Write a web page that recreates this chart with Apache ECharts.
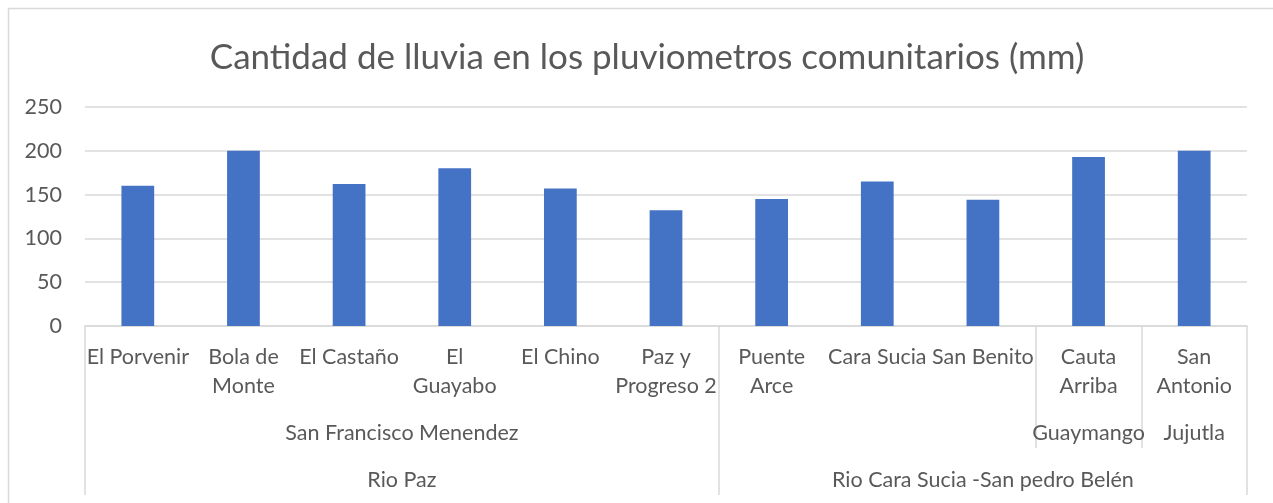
<!DOCTYPE html>
<html>
<head>
<meta charset="utf-8">
<script src="https://cdn.jsdelivr.net/npm/echarts@6/dist/echarts.min.js"></script>
<style>
html,body{margin:0;padding:0;background:#fff;}
#chart{width:1273px;height:503px;}
</style>
</head>
<body>
<div id="chart"></div>
<script>
// ---- data ----
const categories = ['El Porvenir','Bola de Monte','El Castaño','El Guayabo','El Chino','Paz y Progreso 2','Puente Arce','Cara Sucia','San Benito','Cauta Arriba','San Antonio'];
const categoryLabels = ['El Porvenir','Bola de\nMonte','El Castaño','El\nGuayabo','El Chino','Paz y\nProgreso 2','Puente\nArce','Cara Sucia','San Benito','Cauta\nArriba','San\nAntonio'];
const rainfall = [160, 200, 162, 180, 157, 132, 145, 165, 144, 193, 200];
// level 2 groups (municipio): [start index, end index (exclusive), label]
const municipios = [[0, 6, 'San Francisco Menendez'], [6, 9, ''], [9, 10, 'Guaymango'], [10, 11, 'Jujutla']];
// level 3 groups (cuenca)
const cuencas = [[0, 6, 'Rio Paz'], [6, 11, 'Rio Cara Sucia -San pedro Belén']];
const yTicks = [0, 50, 100, 150, 200, 250];

const FONT = 'Lato';
const TXT = '#595959';
const LINE = '#d9d9d9';
const n = categories.length;

function groupLabelValues(groups) { return groups.filter(g => g[2]).map(g => (g[0] + g[1]) / 2); }
function groupLabelMap(groups) { const m = {}; groups.forEach(g => { if (g[2]) m[(g[0] + g[1]) / 2] = g[2]; }); return m; }
const muniMap = groupLabelMap(municipios);
const cuencaMap = groupLabelMap(cuencas);
const cuencaBounds = new Set([0].concat(cuencas.map(g => g[1])));
const muniBounds = municipios.map(g => g[1]).filter(v => !cuencaBounds.has(v));

const chart = echarts.init(document.getElementById('chart'));
chart.setOption({
  animation: false,
  backgroundColor: '#fff',
  title: {
    text: 'Cantidad de lluvia en los pluviometros comunitarios (mm)',
    left: 642,
    textAlign: 'center',
    top: 32,
    textStyle: { fontFamily: FONT, fontSize: 35, fontWeight: 'normal', color: TXT, lineHeight: 42 }
  },
  graphic: [{
    type: 'rect', silent: true,
    shape: { x: 8.5, y: 8.5, width: 1300, height: 520 },
    style: { fill: 'none', stroke: LINE, lineWidth: 1.5 }
  }],
  grid: { left: 85, right: 26, top: 107, bottom: 177, containLabel: false },
  yAxis: {
    type: 'value', min: 0, max: 250, interval: 50,
    axisLine: { show: false }, axisTick: { show: false },
    splitLine: { lineStyle: { color: LINE, width: 1.5 } },
    axisLabel: {
      margin: 23, color: TXT, fontFamily: FONT, fontSize: 21.5,
      customValues: yTicks
    }
  },
  xAxis: [
    {
      type: 'category', data: categories, position: 'bottom',
      axisLine: { lineStyle: { color: LINE, width: 1.5 } },
      axisTick: { show: false },
      axisLabel: {
        interval: 0, margin: 17, color: TXT, fontFamily: FONT, fontSize: 21.5, lineHeight: 29,
        formatter: (v, i) => categoryLabels[i]
      }
    },
    {
      type: 'value', min: 0, max: n, position: 'bottom',
      axisLine: { show: false },
      splitLine: { show: false },
      axisTick: { show: true, length: 122, lineStyle: { color: LINE, width: 1.5 }, customValues: muniBounds },
      axisLabel: {
        margin: 93, color: TXT, fontFamily: FONT, fontSize: 21.5, lineHeight: 29,
        customValues: groupLabelValues(municipios),
        formatter: v => muniMap[v] || ''
      }
    },
    {
      type: 'value', min: 0, max: n, position: 'bottom',
      axisLine: { show: false },
      splitLine: { show: false },
      axisTick: { show: true, length: 169, lineStyle: { color: LINE, width: 1.5 }, customValues: Array.from(cuencaBounds) },
      axisLabel: {
        margin: 140, color: TXT, fontFamily: FONT, fontSize: 21.5, lineHeight: 29,
        customValues: groupLabelValues(cuencas),
        formatter: v => cuencaMap[v] || ''
      }
    }
  ],
  series: [{
    type: 'bar', xAxisIndex: 0, yAxisIndex: 0,
    data: rainfall,
    barCategoryGap: '69%',
    itemStyle: { color: '#4472C4' }
  }]
});
</script>
</body>
</html>
